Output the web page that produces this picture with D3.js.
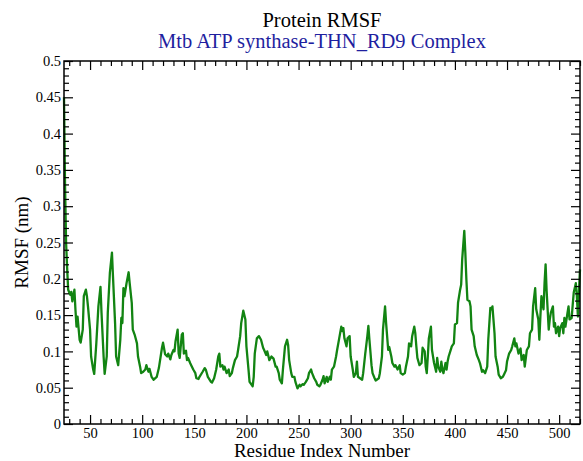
<!DOCTYPE html>
<html>
<head>
<meta charset="utf-8">
<script src="https://cdn.jsdelivr.net/npm/d3@7"></script>
<style>
  body { margin: 0; background: #fff; }
  svg text { font-family: "Liberation Serif", "Times New Roman", "Liberation Sans", Arial, sans-serif; }
</style>
</head>
<body>
<svg id="chart"></svg>
<script>
const width = 583, height = 461;
const margin = {top: 61, right: 3, bottom: 37, left: 64};

// residue numbers and RMSF values
const residues = [25,26,27,28,29,31,32,33,35,36,37,38,40,41,43,44,46,47,48,50,51,53,54,56,58,60,61,63,64,66,67,69,71,72,74,75,77,79,80,81,82,83,85,87,88,90,91,93,95,96,98,99,101,103,104,106,107,109,111,114,116,119,120,122,124,125,127,128,130,131,132,134,135,136,138,139,140,142,143,144,146,147,149,151,152,154,155,158,160,161,163,166,167,169,171,173,174,175,177,178,179,181,183,184,186,187,189,191,192,194,195,197,199,200,202,203,206,207,208,210,212,214,216,217,219,220,222,224,226,228,229,231,232,234,235,237,239,240,241,243,244,246,247,249,251,252,254,255,257,259,260,262,263,265,267,268,270,271,273,274,275,277,278,280,281,282,284,286,287,289,291,292,293,294,296,297,299,300,302,303,305,306,307,309,311,312,314,316,317,318,320,321,323,324,325,327,328,330,331,333,334,336,337,339,340,342,343,345,347,348,350,352,353,355,356,358,359,361,362,363,364,366,368,369,371,372,373,374,375,377,378,379,380,382,383,384,386,387,388,389,391,392,393,394,396,397,399,400,402,403,405,406,407,409,410,411,412,414,415,416,418,419,421,423,424,426,427,429,431,432,434,435,436,438,439,441,442,444,446,447,449,450,452,454,455,457,458,459,461,463,464,466,467,469,471,472,474,475,477,478,480,481,482,483,485,486,487,488,490,491,492,494,495,496,497,499,500,501,503,504,505,506,508,509,510,512,513,514,516,517,518,519,520];
const rmsf = [0.450,0.330,0.250,0.215,0.185,0.178,0.182,0.169,0.185,0.157,0.134,0.148,0.116,0.112,0.130,0.176,0.185,0.176,0.162,0.130,0.093,0.075,0.069,0.111,0.162,0.189,0.153,0.093,0.069,0.093,0.153,0.208,0.236,0.203,0.139,0.093,0.081,0.116,0.146,0.139,0.187,0.176,0.194,0.209,0.194,0.167,0.130,0.122,0.111,0.093,0.079,0.070,0.072,0.075,0.081,0.072,0.076,0.065,0.061,0.065,0.077,0.105,0.112,0.096,0.093,0.097,0.089,0.095,0.102,0.100,0.114,0.130,0.097,0.091,0.123,0.125,0.097,0.101,0.088,0.091,0.084,0.081,0.075,0.070,0.063,0.062,0.065,0.072,0.077,0.075,0.065,0.058,0.057,0.063,0.075,0.093,0.097,0.079,0.081,0.075,0.079,0.070,0.075,0.066,0.070,0.077,0.088,0.093,0.102,0.121,0.139,0.156,0.144,0.107,0.075,0.058,0.052,0.065,0.097,0.118,0.121,0.116,0.105,0.102,0.095,0.100,0.088,0.093,0.090,0.079,0.079,0.070,0.061,0.056,0.075,0.107,0.116,0.109,0.088,0.070,0.065,0.065,0.058,0.049,0.054,0.052,0.055,0.054,0.058,0.063,0.070,0.075,0.070,0.063,0.058,0.054,0.052,0.054,0.061,0.066,0.056,0.065,0.058,0.065,0.061,0.075,0.079,0.093,0.102,0.118,0.134,0.128,0.132,0.118,0.107,0.118,0.121,0.093,0.075,0.065,0.070,0.086,0.065,0.063,0.061,0.070,0.097,0.121,0.135,0.116,0.081,0.070,0.063,0.060,0.061,0.063,0.070,0.093,0.130,0.162,0.139,0.102,0.106,0.093,0.084,0.079,0.081,0.075,0.081,0.070,0.068,0.070,0.079,0.093,0.111,0.107,0.121,0.134,0.125,0.107,0.091,0.081,0.084,0.105,0.100,0.079,0.070,0.093,0.118,0.134,0.102,0.093,0.084,0.072,0.091,0.079,0.072,0.086,0.075,0.070,0.084,0.075,0.086,0.093,0.102,0.107,0.111,0.137,0.139,0.167,0.185,0.192,0.227,0.266,0.236,0.199,0.171,0.169,0.162,0.130,0.121,0.107,0.095,0.088,0.084,0.072,0.074,0.070,0.079,0.116,0.160,0.158,0.162,0.125,0.093,0.079,0.068,0.063,0.065,0.068,0.074,0.086,0.097,0.102,0.107,0.118,0.107,0.111,0.097,0.104,0.088,0.095,0.079,0.102,0.107,0.125,0.130,0.162,0.187,0.158,0.144,0.116,0.148,0.176,0.158,0.194,0.220,0.183,0.130,0.144,0.153,0.162,0.134,0.139,0.125,0.134,0.121,0.132,0.139,0.125,0.146,0.134,0.153,0.162,0.144,0.146,0.164,0.181,0.194,0.176,0.148,0.183,0.213];

const xTicks = [50, 100, 150, 200, 250, 300, 350, 400, 450, 500];
const xMinorTicks = [30, 40, 60, 70, 80, 90, 110, 120, 130, 140, 160, 170, 180, 190, 210, 220, 230, 240, 260, 270, 280, 290, 310, 320, 330, 340, 360, 370, 380, 390, 410, 420, 430, 440, 460, 470, 480, 490, 510, 520];
const yTicks = [0, 0.05, 0.1, 0.15, 0.2, 0.25, 0.3, 0.35, 0.4, 0.45, 0.5];
const yTickLabels = ["0", "0.05", "0.1", "0.15", "0.2", "0.25", "0.3", "0.35", "0.4", "0.45", "0.5"];
const yMinorTicks = d3.range(0, 51).filter(i => i % 5).map(i => i / 100);

const svg = d3.select("#chart")
  .attr("width", width)
  .attr("height", height);

svg.append("rect").attr("width", width).attr("height", height).attr("fill", "#fff");

const x = d3.scaleLinear().domain([25, 520]).range([margin.left, width - margin.right]);
const y = d3.scaleLinear().domain([0, 0.5]).range([height - margin.bottom, margin.top]);

const pts = residues.map((r, i) => [r, rmsf[i]]);

const line = d3.line()
  .x(d => x(d[0]))
  .y(d => y(d[1]));

svg.append("path")
  .datum(pts)
  .attr("d", line)
  .attr("fill", "none")
  .attr("stroke", "#128412")
  .attr("stroke-width", 2.3)
  .attr("stroke-linejoin", "round");

// frame
svg.append("rect")
  .attr("x", x.range()[0]).attr("y", y.range()[1])
  .attr("width", x.range()[1] - x.range()[0])
  .attr("height", y.range()[0] - y.range()[1])
  .attr("fill", "none").attr("stroke", "#000").attr("stroke-width", 1.5);

function styleAxis(g) {
  g.select(".domain").remove();
  g.selectAll("line").attr("stroke", "#000").attr("stroke-width", 1.2);
  g.selectAll("text").attr("font-size", 14.5).attr("fill", "#000");
}

const yBottom = height - margin.bottom, yTop = margin.top;
const xLeft = margin.left, xRight = width - margin.right;

// bottom
svg.append("g").attr("transform", `translate(0,${yBottom})`)
  .call(d3.axisBottom(x).tickValues(xTicks).tickSize(-9).tickPadding(4))
  .call(styleAxis);
svg.append("g").attr("transform", `translate(0,${yBottom})`)
  .call(d3.axisBottom(x).tickValues(xMinorTicks).tickSize(-5).tickFormat(""))
  .call(styleAxis);
// top
svg.append("g").attr("transform", `translate(0,${yTop})`)
  .call(d3.axisTop(x).tickValues(xTicks).tickSize(-9).tickFormat(""))
  .call(styleAxis);
svg.append("g").attr("transform", `translate(0,${yTop})`)
  .call(d3.axisTop(x).tickValues(xMinorTicks).tickSize(-5).tickFormat(""))
  .call(styleAxis);
// left
svg.append("g").attr("transform", `translate(${xLeft},0)`)
  .call(d3.axisLeft(y).tickValues(yTicks).tickSize(-9).tickPadding(3)
    .tickFormat((d, i) => yTickLabels[i]))
  .call(styleAxis);
svg.append("g").attr("transform", `translate(${xLeft},0)`)
  .call(d3.axisLeft(y).tickValues(yMinorTicks).tickSize(-5).tickFormat(""))
  .call(styleAxis);
// right
svg.append("g").attr("transform", `translate(${xRight},0)`)
  .call(d3.axisRight(y).tickValues(yTicks).tickSize(-9).tickFormat(""))
  .call(styleAxis);
svg.append("g").attr("transform", `translate(${xRight},0)`)
  .call(d3.axisRight(y).tickValues(yMinorTicks).tickSize(-5).tickFormat(""))
  .call(styleAxis);

const cx = (xLeft + xRight) / 2;

function label(txt, size, color) {
  return svg.append("text")
    .attr("text-anchor", "middle")
    .attr("font-size", size)
    .attr("fill", color)
    .text(txt);
}

label("Protein RMSF", 20.5, "#000").attr("x", cx).attr("y", 27);
label("Mtb ATP synthase-THN_RD9 Complex", 20.5, "#1f1f9f").attr("x", cx).attr("y", 48);
label("Residue Index Number", 19, "#000").attr("x", cx).attr("y", 457);
label("RMSF (nm)", 19, "#000")
  .attr("transform", `translate(28,${(yTop + yBottom) / 2}) rotate(-90)`);
</script>
</body>
</html>
